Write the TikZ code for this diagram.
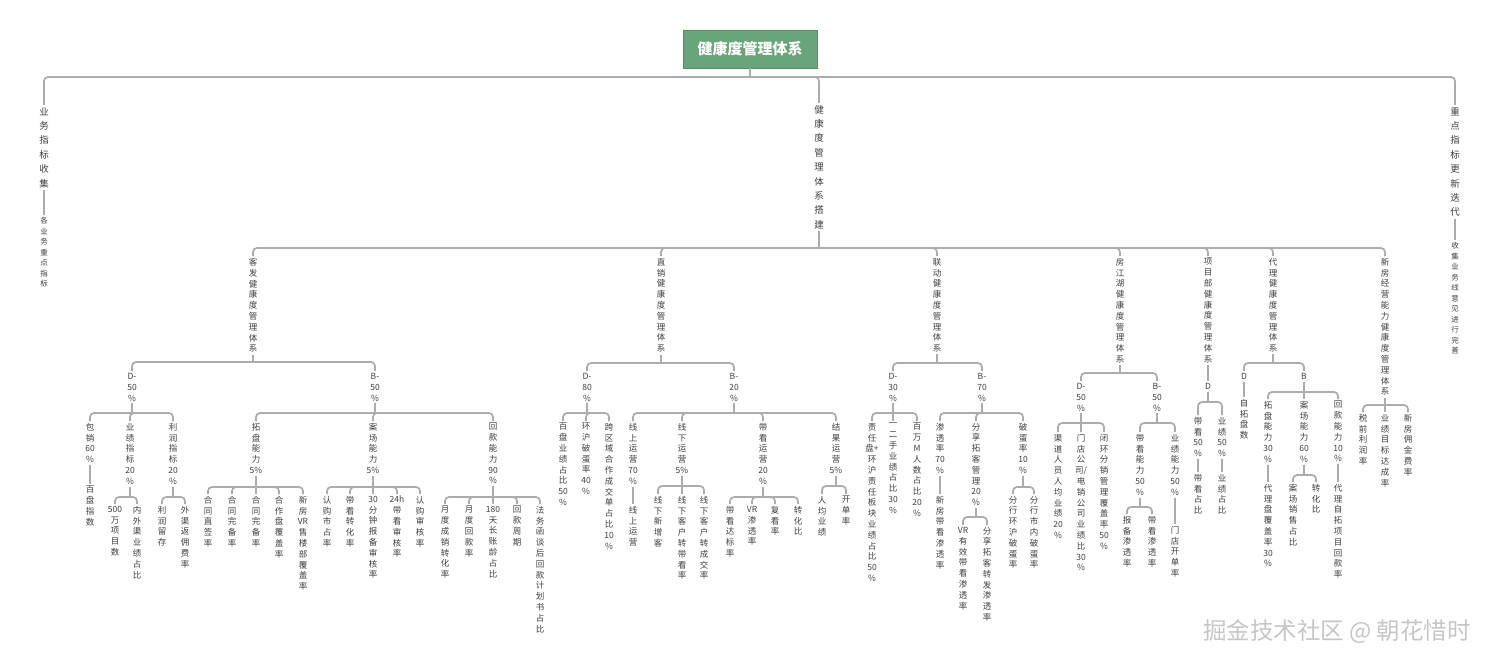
\documentclass[tikz,border=0pt]{standalone}
\usepackage{fontspec}
\setmainfont{Noto Sans CJK SC}
\definecolor{rootgreen}{RGB}{104,165,122}
\definecolor{linegray}{RGB}{172,172,172}
\definecolor{txtgray}{RGB}{62,62,62}
\tikzset{
    root/.style={rectangle, fill=rootgreen, draw=rootgreen!85!black, text=white,
        font=\bfseries\fontsize{15}{18}\selectfont, minimum width=134, minimum height=38},
    head/.style={anchor=north, align=center, text=txtgray, inner sep=2pt,
        font=\fontsize{9.5}{14.4}\selectfont},
    note/.style={anchor=north, align=center, text=txtgray, inner sep=2pt,
        font=\fontsize{7.5}{10.5}\selectfont},
    item/.style={anchor=north, align=center, text=txtgray, inner sep=2pt,
        font=\fontsize{8.5}{10.8}\selectfont},
    link/.style={draw=linegray, line width=1.7pt, rounded corners=4pt},
    wmark/.style={text=gray!45, font=\fontsize{23.5}{26}\selectfont}
}
\begin{document}
\begin{tikzpicture}[x=1pt,y=-1pt]
\useasboundingbox (0,0) rectangle (1500,666);

% top
\node[root] (root) at (750,49) {健康度管理体系};
\coordinate (rootbar) at (750,77);
\node[head] (ywzb) at (44,105) {业\\务\\指\\标\\收\\集};
\node[note] (ywzbn) at (44,215) {各\\业\\务\\重\\点\\指\\标};
\node[head] (dj) at (819,103) {健\\康\\度\\管\\理\\体\\系\\搭\\建};
\node[head] (gx) at (1455,105) {重\\点\\指\\标\\更\\新\\迭\\代};
\node[note] (gxn) at (1455,240) {收\\集\\业\\务\\线\\意\\见\\进\\行\\完\\善};
\draw[link] (root) -- (rootbar);
\draw[link] (rootbar) -| (ywzb);
\draw[link] (rootbar) -| (dj);
\draw[link] (rootbar) -| (gx);
\draw[link] (ywzb) -- (ywzbn);
\draw[link] (gx) -- (gxn);

% systems
\coordinate (djbar) at (819,248);
\node[item] (kf) at (253,256) {客\\发\\健\\康\\度\\管\\理\\体\\系};
\node[item] (zx) at (661,256) {直\\销\\健\\康\\度\\管\\理\\体\\系};
\node[item] (ld) at (937,256) {联\\动\\健\\康\\度\\管\\理\\体\\系};
\node[item] (fjh) at (1120,256) {房\\江\\湖\\健\\康\\度\\管\\理\\体\\系};
\node[item] (xmb) at (1208,256) {项\\目\\部\\健\\康\\度\\管\\理\\体\\系};
\node[item] (dl) at (1273,256) {代\\理\\健\\康\\度\\管\\理\\体\\系};
\node[item] (xf) at (1385,256) {新\\房\\经\\营\\能\\力\\健\\康\\度\\管\\理\\体\\系};
\draw[link] (dj) -- (djbar);
\draw[link] (djbar) -| (kf);
\draw[link] (djbar) -| (zx);
\draw[link] (djbar) -| (ld);
\draw[link] (djbar) -| (fjh);
\draw[link] (djbar) -| (xmb);
\draw[link] (djbar) -| (dl);
\draw[link] (djbar) -| (xf);

% kefa
\coordinate (kfbar) at (253,362);
\node[item] (kfd) at (132,371) {D-\\50\\\%};
\node[item] (kfb) at (375,371) {B-\\50\\\%};
\draw[link] (kf) -- (kfbar);
\draw[link] (kfbar) -| (kfd);
\draw[link] (kfbar) -| (kfb);

\coordinate (kfdbar) at (132,413);
\node[item] (kfd1) at (90,421) {包\\销\\60\\\%};
\node[item] (kfd1a) at (90,484) {百\\盘\\指\\数};
\node[item] (kfd2) at (130,421) {业\\绩\\指\\标\\20\\\%};
\node[item] (kfd3) at (173,421) {利\\润\\指\\标\\20\\\%};
\draw[link] (kfd) -- (kfdbar);
\draw[link] (kfdbar) -| (kfd1);
\draw[link] (kfdbar) -| (kfd2);
\draw[link] (kfdbar) -| (kfd3);
\draw[link] (kfd1) -- (kfd1a);

\coordinate (kfd2bar) at (130,497);
\node[item] (kfd2a) at (115,504) {500\\万\\项\\目\\数};
\node[item] (kfd2b) at (137,504) {内\\外\\渠\\业\\绩\\占\\比};
\draw[link] (kfd2) -- (kfd2bar);
\draw[link] (kfd2bar) -| (kfd2a);
\draw[link] (kfd2bar) -| (kfd2b);

\coordinate (kfd3bar) at (173,497);
\node[item] (kfd3a) at (162,504) {利\\润\\留\\存};
\node[item] (kfd3b) at (185,504) {外\\渠\\返\\佣\\费\\率};
\draw[link] (kfd3) -- (kfd3bar);
\draw[link] (kfd3bar) -| (kfd3a);
\draw[link] (kfd3bar) -| (kfd3b);

\coordinate (kfbbar) at (375,413);
\node[item] (kfb1) at (256,421) {拓\\盘\\能\\力\\5\%};
\node[item] (kfb2) at (373,421) {案\\场\\能\\力\\5\%};
\node[item] (kfb3) at (493,421) {回\\款\\能\\力\\90\\\%};
\draw[link] (kfb) -- (kfbbar);
\draw[link] (kfbbar) -| (kfb1);
\draw[link] (kfbbar) -| (kfb2);
\draw[link] (kfbbar) -| (kfb3);

\coordinate (kfb1bar) at (256,487);
\node[item] (kfb1a) at (208,494) {合\\同\\直\\签\\率};
\node[item] (kfb1b) at (232,494) {合\\同\\完\\备\\率};
\node[item] (kfb1c) at (256,494) {合\\同\\完\\备\\率};
\node[item] (kfb1d) at (279,494) {合\\作\\盘\\覆\\盖\\率};
\node[item] (kfb1e) at (303,494) {新\\房\\VR\\售\\楼\\部\\覆\\盖\\率};
\draw[link] (kfb1) -- (kfb1bar);
\draw[link] (kfb1bar) -| (kfb1a);
\draw[link] (kfb1bar) -| (kfb1b);
\draw[link] (kfb1bar) -| (kfb1c);
\draw[link] (kfb1bar) -| (kfb1d);
\draw[link] (kfb1bar) -| (kfb1e);

\coordinate (kfb2bar) at (373,487);
\node[item] (kfb2a) at (327,494) {认\\购\\市\\占\\率};
\node[item] (kfb2b) at (350,494) {带\\看\\转\\化\\率};
\node[item] (kfb2c) at (373,494) {30\\分\\钟\\报\\备\\审\\核\\率};
\node[item] (kfb2d) at (397,494) {24h\\带\\看\\审\\核\\率};
\node[item] (kfb2e) at (420,494) {认\\购\\审\\核\\率};
\draw[link] (kfb2) -- (kfb2bar);
\draw[link] (kfb2bar) -| (kfb2a);
\draw[link] (kfb2bar) -| (kfb2b);
\draw[link] (kfb2bar) -| (kfb2c);
\draw[link] (kfb2bar) -| (kfb2d);
\draw[link] (kfb2bar) -| (kfb2e);

\coordinate (kfb3bar) at (493,497);
\node[item] (kfb3a) at (445,504) {月\\度\\成\\销\\转\\化\\率};
\node[item] (kfb3b) at (469,504) {月\\度\\回\\款\\率};
\node[item] (kfb3c) at (493,504) {180\\天\\长\\账\\龄\\占\\比};
\node[item] (kfb3d) at (517,504) {回\\款\\周\\期};
\node[item] (kfb3e) at (540,504) {法\\务\\函\\谈\\后\\回\\款\\计\\划\\书\\占\\比};
\draw[link] (kfb3) -- (kfb3bar);
\draw[link] (kfb3bar) -| (kfb3a);
\draw[link] (kfb3bar) -| (kfb3b);
\draw[link] (kfb3bar) -| (kfb3c);
\draw[link] (kfb3bar) -| (kfb3d);
\draw[link] (kfb3bar) -| (kfb3e);

% zhixiao
\coordinate (zxbar) at (661,363);
\node[item] (zxd) at (587,371) {D-\\80\\\%};
\node[item] (zxb) at (734,371) {B-\\20\\\%};
\draw[link] (zx) -- (zxbar);
\draw[link] (zxbar) -| (zxd);
\draw[link] (zxbar) -| (zxb);

\coordinate (zxdbar) at (587,413);
\node[item] (zxd1) at (563,421) {百\\盘\\业\\绩\\占\\比\\50\\\%};
\node[item] (zxd2) at (586,421) {环\\沪\\破\\蛋\\率\\40\\\%};
\node[item] (zxd3) at (609,421) {跨\\区\\域\\合\\作\\成\\交\\单\\占\\比\\10\\\%};
\draw[link] (zxd) -- (zxdbar);
\draw[link] (zxdbar) -| (zxd1);
\draw[link] (zxdbar) -| (zxd2);
\draw[link] (zxdbar) -| (zxd3);

\coordinate (zxbbar) at (734,413);
\node[item] (zxb1) at (633,421) {线\\上\\运\\营\\70\\\%};
\node[item] (zxb1a) at (633,504) {线\\上\\运\\营};
\node[item] (zxb2) at (682,421) {线\\下\\运\\营\\5\%};
\node[item] (zxb3) at (763,421) {带\\看\\运\\营\\20\\\%};
\node[item] (zxb4) at (836,421) {结\\果\\运\\营\\5\%};
\draw[link] (zxb) -- (zxbbar);
\draw[link] (zxbbar) -| (zxb1);
\draw[link] (zxbbar) -| (zxb2);
\draw[link] (zxbbar) -| (zxb3);
\draw[link] (zxbbar) -| (zxb4);
\draw[link] (zxb1) -- (zxb1a);

\coordinate (zxb2bar) at (682,486);
\node[item] (zxb2a) at (658,494) {线\\下\\新\\增\\客};
\node[item] (zxb2b) at (682,494) {线\\下\\客\\户\\转\\带\\看\\率};
\node[item] (zxb2c) at (704,494) {线\\下\\客\\户\\转\\成\\交\\率};
\draw[link] (zxb2) -- (zxb2bar);
\draw[link] (zxb2bar) -| (zxb2a);
\draw[link] (zxb2bar) -| (zxb2b);
\draw[link] (zxb2bar) -| (zxb2c);

\coordinate (zxb3bar) at (763,497);
\node[item] (zxb3a) at (730,504) {带\\看\\达\\标\\率};
\node[item] (zxb3b) at (752,504) {VR\\渗\\透\\率};
\node[item] (zxb3c) at (775,504) {复\\看\\率};
\node[item] (zxb3d) at (798,504) {转\\化\\比};
\draw[link] (zxb3) -- (zxb3bar);
\draw[link] (zxb3bar) -| (zxb3a);
\draw[link] (zxb3bar) -| (zxb3b);
\draw[link] (zxb3bar) -| (zxb3c);
\draw[link] (zxb3bar) -| (zxb3d);

\coordinate (zxb4bar) at (836,486);
\node[item] (zxb4a) at (822,494) {人\\均\\业\\绩};
\node[item] (zxb4b) at (846,494) {开\\单\\率};
\draw[link] (zxb4) -- (zxb4bar);
\draw[link] (zxb4bar) -| (zxb4a);
\draw[link] (zxb4bar) -| (zxb4b);

% liandong
\coordinate (ldbar) at (937,363);
\node[item] (ldd) at (893,371) {D-\\30\\\%};
\node[item] (ldb) at (982,371) {B-\\70\\\%};
\draw[link] (ld) -- (ldbar);
\draw[link] (ldbar) -| (ldd);
\draw[link] (ldbar) -| (ldb);

\coordinate (lddbar) at (893,413);
\node[item] (ldd1) at (872,421) {责\\任\\盘+\\环\\沪\\责\\任\\板\\块\\业\\绩\\占\\比\\50\\\%};
\node[item] (ldd2) at (893,421) {一\\二\\手\\业\\绩\\占\\比\\30\\\%};
\node[item] (ldd3) at (917,421) {百\\万\\M\\人\\数\\占\\比\\20\\\%};
\draw[link] (ldd) -- (lddbar);
\draw[link] (lddbar) -| (ldd1);
\draw[link] (lddbar) -| (ldd2);
\draw[link] (lddbar) -| (ldd3);

\coordinate (ldbbar) at (982,413);
\node[item] (ldb1) at (940,421) {渗\\透\\率\\70\\\%};
\node[item] (ldb1a) at (940,494) {新\\房\\带\\看\\渗\\透\\率};
\node[item] (ldb2) at (976,421) {分\\享\\拓\\客\\管\\理\\20\\\%};
\node[item] (ldb3) at (1023,421) {破\\蛋\\率\\10\\\%};
\draw[link] (ldb) -- (ldbbar);
\draw[link] (ldbbar) -| (ldb1);
\draw[link] (ldbbar) -| (ldb2);
\draw[link] (ldbbar) -| (ldb3);
\draw[link] (ldb1) -- (ldb1a);

\coordinate (ldb2bar) at (976,517);
\node[item] (ldb2a) at (963,525) {VR\\有\\效\\带\\看\\渗\\透\\率};
\node[item] (ldb2b) at (987,525) {分\\享\\拓\\客\\转\\发\\渗\\透\\率};
\draw[link] (ldb2) -- (ldb2bar);
\draw[link] (ldb2bar) -| (ldb2a);
\draw[link] (ldb2bar) -| (ldb2b);

\coordinate (ldb3bar) at (1023,487);
\node[item] (ldb3a) at (1013,494) {分\\行\\环\\沪\\破\\蛋\\率};
\node[item] (ldb3b) at (1034,494) {分\\行\\市\\内\\破\\蛋\\率};
\draw[link] (ldb3) -- (ldb3bar);
\draw[link] (ldb3bar) -| (ldb3a);
\draw[link] (ldb3bar) -| (ldb3b);

% fangjianghu
\coordinate (fjhbar) at (1120,373);
\node[item] (fjhd) at (1081,381) {D-\\50\\\%};
\node[item] (fjhb) at (1157,381) {B-\\50\\\%};
\draw[link] (fjh) -- (fjhbar);
\draw[link] (fjhbar) -| (fjhd);
\draw[link] (fjhbar) -| (fjhb);

\coordinate (fjhdbar) at (1081,423);
\node[item] (fjhd1) at (1058,432) {渠\\道\\人\\员\\人\\均\\业\\绩\\20\\\%};
\node[item] (fjhd2) at (1081,432) {门\\店\\公\\司/\\电\\销\\公\\司\\业\\绩\\比\\30\\\%};
\node[item] (fjhd3) at (1104,432) {闭\\环\\分\\销\\管\\理\\覆\\盖\\率\\50\\\%};
\draw[link] (fjhd) -- (fjhdbar);
\draw[link] (fjhdbar) -| (fjhd1);
\draw[link] (fjhdbar) -| (fjhd2);
\draw[link] (fjhdbar) -| (fjhd3);

\coordinate (fjhbbar) at (1157,423);
\node[item] (fjhb1) at (1140,432) {带\\看\\能\\力\\50\\\%};
\node[item] (fjhb2) at (1175,432) {业\\绩\\能\\力\\50\\\%};
\node[item] (fjhb2a) at (1175,524) {门\\店\\开\\单\\率};
\draw[link] (fjhb) -- (fjhbbar);
\draw[link] (fjhbbar) -| (fjhb1);
\draw[link] (fjhbbar) -| (fjhb2);
\draw[link] (fjhb2) -- (fjhb2a);

\coordinate (fjhb1bar) at (1140,507);
\node[item] (fjhb1a) at (1127,514) {报\\备\\渗\\透\\率};
\node[item] (fjhb1b) at (1152,514) {带\\看\\渗\\透\\率};
\draw[link] (fjhb1) -- (fjhb1bar);
\draw[link] (fjhb1bar) -| (fjhb1a);
\draw[link] (fjhb1bar) -| (fjhb1b);

% xiangmubu
\node[item] (xmbd) at (1208,381) {D};
\draw[link] (xmb) -- (xmbd);
\coordinate (xmbdbar) at (1208,402);
\node[item] (xmbd1) at (1198,415) {带\\看\\50\\\%};
\node[item] (xmbd1a) at (1198,472) {带\\看\\占\\比};
\node[item] (xmbd2) at (1222,415) {业\\绩\\50\\\%};
\node[item] (xmbd2a) at (1222,472) {业\\绩\\占\\比};
\draw[link] (xmbd) -- (xmbdbar);
\draw[link] (xmbdbar) -| (xmbd1);
\draw[link] (xmbdbar) -| (xmbd2);
\draw[link] (xmbd1) -- (xmbd1a);
\draw[link] (xmbd2) -- (xmbd2a);

% daili
\coordinate (dlbar) at (1273,363);
\node[item] (dld) at (1244,371) {D};
\node[item] (dld1) at (1244,397) {自\\拓\\盘\\数};
\node[item] (dlb) at (1304,371) {B};
\draw[link] (dl) -- (dlbar);
\draw[link] (dlbar) -| (dld);
\draw[link] (dlbar) -| (dlb);
\draw[link] (dld) -- (dld1);

\coordinate (dlbbar) at (1304,392);
\node[item] (dlb1) at (1268,399) {拓\\盘\\能\\力\\30\\\%};
\node[item] (dlb1a) at (1268,482) {代\\理\\盘\\覆\\盖\\率\\30\\\%};
\node[item] (dlb2) at (1304,399) {案\\场\\能\\力\\60\\\%};
\node[item] (dlb3) at (1338,399) {回\\款\\能\\力\\10\\\%};
\node[item] (dlb3a) at (1338,482) {代\\理\\自\\拓\\项\\目\\回\\款\\率};
\draw[link] (dlb) -- (dlbbar);
\draw[link] (dlbbar) -| (dlb1);
\draw[link] (dlbbar) -| (dlb2);
\draw[link] (dlbbar) -| (dlb3);
\draw[link] (dlb1) -- (dlb1a);
\draw[link] (dlb3) -- (dlb3a);

\coordinate (dlb2bar) at (1304,475);
\node[item] (dlb2a) at (1293,482) {案\\场\\销\\售\\占\\比};
\node[item] (dlb2b) at (1316,482) {转\\化\\比};
\draw[link] (dlb2) -- (dlb2bar);
\draw[link] (dlb2bar) -| (dlb2a);
\draw[link] (dlb2bar) -| (dlb2b);

% xinfang
\coordinate (xfbar) at (1385,405);
\node[item] (xf1) at (1363,412) {税\\前\\利\\润\\率};
\node[item] (xf2) at (1385,412) {业\\绩\\目\\标\\达\\成\\率};
\node[item] (xf3) at (1408,412) {新\\房\\佣\\金\\费\\率};
\draw[link] (xf) -- (xfbar);
\draw[link] (xfbar) -| (xf1);
\draw[link] (xfbar) -| (xf2);
\draw[link] (xfbar) -| (xf3);

\node[wmark] (wm) at (1337,632) {掘金技术社区 @ 朝花惜时};
\end{tikzpicture}
\end{document}
